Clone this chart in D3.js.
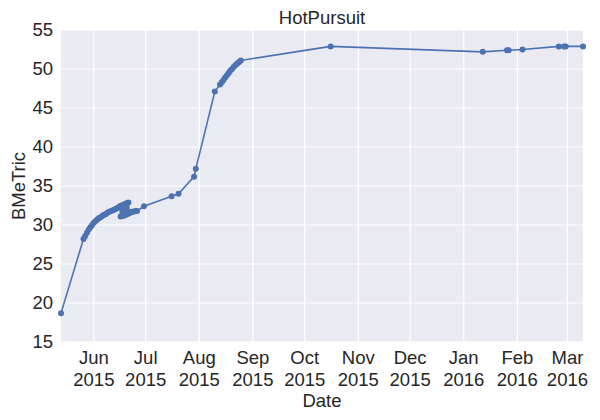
<!DOCTYPE html>
<html>
<head>
<meta charset="utf-8">
<script src="https://cdn.jsdelivr.net/npm/d3@7.9.0/dist/d3.min.js"></script>
<style>
  body { margin: 0; background: #fff; }
  svg { display: block; font-family: "Liberation Sans", Arial, sans-serif; }
</style>
</head>
<body>
<svg id="chart" width="600" height="420"></svg>
<script>
const dates = [
  "2015-05-13",
  "2015-05-26", "2015-05-27", "2015-05-28", "2015-05-29", "2015-05-30", "2015-05-31",
  "2015-06-01", "2015-06-02", "2015-06-03", "2015-06-04", "2015-06-05", "2015-06-06",
  "2015-06-07", "2015-06-08", "2015-06-09", "2015-06-10", "2015-06-11", "2015-06-12",
  "2015-06-13", "2015-06-14", "2015-06-15",
  "2015-06-16T00", "2015-06-16T12", "2015-06-17T00", "2015-06-17T12",
  "2015-06-18T00", "2015-06-18T12", "2015-06-19T00", "2015-06-19T12",
  "2015-06-20T00", "2015-06-20T12", "2015-06-21T00", "2015-06-21T12",
  "2015-06-22", "2015-06-23", "2015-06-24", "2015-06-25", "2015-06-26",
  "2015-06-30", "2015-07-16", "2015-07-20", "2015-07-29", "2015-07-30",
  "2015-08-10", "2015-08-13", "2015-08-14", "2015-08-15", "2015-08-16", "2015-08-17",
  "2015-08-18", "2015-08-19", "2015-08-20", "2015-08-21", "2015-08-22", "2015-08-23",
  "2015-08-24", "2015-08-25",
  "2015-10-16", "2016-01-12", "2016-01-26", "2016-01-27", "2016-02-04",
  "2016-02-25", "2016-02-28", "2016-02-29", "2016-03-10"
];
const values = [
  18.7,
  28.2, 28.6, 29.0, 29.4, 29.7, 30.0,
  30.3, 30.5, 30.7, 30.9, 31.0, 31.2,
  31.3, 31.4, 31.6, 31.7, 31.8, 31.9,
  32.0, 32.1, 32.2,
  32.4, 31.1, 32.5, 31.2,
  32.6, 31.2, 32.7, 31.3,
  32.8, 31.4, 32.9, 31.5,
  31.6, 31.7, 31.7, 31.8, 31.8,
  32.4, 33.7, 34.0, 36.2, 37.2,
  47.1, 48.0, 48.3, 48.6, 48.9, 49.2,
  49.5, 49.8, 50.0, 50.3, 50.5, 50.7,
  50.9, 51.1,
  52.9, 52.2, 52.4, 52.4, 52.5,
  52.9, 52.9, 52.9, 52.9
];
const yTicks = [15, 20, 25, 30, 35, 40, 45, 50, 55];
const title = "HotPursuit";
const xLabel = "Date";
const yLabel = "BMeTric";

const parse = s => new Date(s.length > 10 ? s + ":00:00" : s + "T00:00:00");
const data = dates.map((d, i) => ({ date: parse(d), value: values[i] }));

const width = 600, height = 420;
const margin = { top: 30, right: 17, bottom: 78, left: 61 };
const innerW = width - margin.left - margin.right;
const innerH = height - margin.top - margin.bottom;
const fs = 18.5;

const svg = d3.select("#chart");
const g = svg.append("g").attr("transform", `translate(${margin.left},${margin.top})`);

const x = d3.scaleTime()
  .domain(d3.extent(data, d => d.date))
  .range([0, innerW]);
const y = d3.scaleLinear()
  .domain([15, 55])
  .range([innerH, 0]);

// background
g.append("rect").attr("width", innerW).attr("height", innerH).attr("fill", "#EAEAF2");

const monthTicks = d3.timeMonth.range(d3.timeMonth.ceil(x.domain()[0]), x.domain()[1]);

// grid
g.append("g").selectAll("line").data(monthTicks).join("line")
  .attr("x1", d => x(d)).attr("x2", d => x(d))
  .attr("y1", 0).attr("y2", innerH)
  .attr("stroke", "#fff").attr("stroke-width", 1.2);
g.append("g").selectAll("line").data(yTicks).join("line")
  .attr("x1", 0).attr("x2", innerW)
  .attr("y1", d => y(d)).attr("y2", d => y(d))
  .attr("stroke", "#fff").attr("stroke-width", 1.2);

// y axis labels
g.append("g").selectAll("text").data(yTicks).join("text")
  .attr("x", -8).attr("y", d => y(d)).attr("dy", "0.35em")
  .attr("text-anchor", "end").attr("font-size", fs).attr("fill", "#262626")
  .text(d => d);

// x axis labels (two lines)
const xl = g.append("g").selectAll("text").data(monthTicks).join("text")
  .attr("text-anchor", "middle").attr("font-size", fs).attr("fill", "#262626")
  .attr("transform", d => `translate(${x(d)},${innerH})`);
xl.append("tspan").attr("x", 0).attr("y", 22).text(d3.timeFormat("%b"));
xl.append("tspan").attr("x", 0).attr("y", 44).text(d3.timeFormat("%Y"));

// line + markers
const line = d3.line().x(d => x(d.date)).y(d => y(d.value));
g.append("path").datum(data)
  .attr("d", line).attr("fill", "none")
  .attr("stroke", "#4C72B0").attr("stroke-width", 1.6);
g.append("g").selectAll("circle").data(data).join("circle")
  .attr("cx", d => x(d.date)).attr("cy", d => y(d.value))
  .attr("r", 3).attr("fill", "#4C72B0");

// titles
svg.append("text").attr("x", margin.left + innerW / 2).attr("y", 24)
  .attr("text-anchor", "middle").attr("font-size", fs).attr("fill", "#262626").text(title);
svg.append("text").attr("x", margin.left + innerW / 2).attr("y", 407)
  .attr("text-anchor", "middle").attr("font-size", fs).attr("fill", "#262626").text(xLabel);
svg.append("text").attr("transform", `translate(25,${margin.top + innerH / 2}) rotate(-90)`)
  .attr("text-anchor", "middle").attr("font-size", fs).attr("fill", "#262626").text(yLabel);
</script>
</body>
</html>
